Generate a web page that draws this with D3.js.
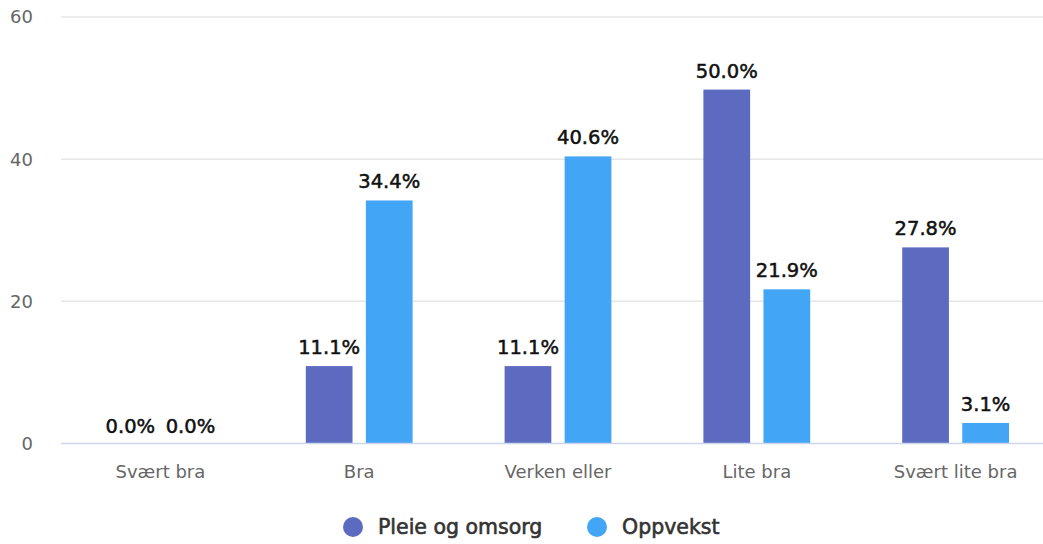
<!DOCTYPE html>
<html><head><meta charset="utf-8">
<script src="https://cdn.jsdelivr.net/npm/d3@7"></script>
<style>body{margin:0;background:#fff}svg{display:block}</style>
</head><body>
<svg id="c" width="1043" height="544"></svg>
<script>
const categories = ["Svært bra", "Bra", "Verken eller", "Lite bra", "Svært lite bra"];
const seriesNames = ["Pleie og omsorg", "Oppvekst"];
const pleie = [0.0, 11.1, 11.1, 50.0, 27.8];
const oppvekst = [0.0, 34.4, 40.6, 21.9, 3.1];
const colors = ["#5c6bc0", "#42a5f5"];
const yTicks = [0, 20, 40, 60];

(function () {
const svg = d3.select("#c");
const mLeft = 61, mRight = 1055, mTop = 17, mBottom = 443.5;
const x = d3.scaleBand().domain(categories).range([mLeft, mRight]).paddingInner(0).paddingOuter(0);
const y = d3.scaleLinear().domain([0, 60]).range([mBottom, mTop]);
const x1 = d3.scaleBand().domain(seriesNames).range([46, x.bandwidth() - 46]).paddingInner(0.222).paddingOuter(0);

svg.append("g").selectAll("line").data(yTicks.filter(d => d !== 0)).join("line")
  .attr("x1", mLeft).attr("x2", 1043).attr("y1", d => y(d)).attr("y2", d => y(d))
  .attr("stroke", "#e6e6e6").attr("stroke-width", 1.5);
svg.append("g").selectAll("text").data(yTicks).join("text")
  .attr("x", 33).attr("y", d => y(d)).attr("dy", "0.36em").attr("text-anchor", "end")
  .attr("font-family", "DejaVu Sans").attr("font-size", 18).attr("fill", "#666")
  .text(d => d);

const data = [pleie, oppvekst];
const g = svg.append("g");
categories.forEach((c, i) => {
  data.forEach((vals, s) => {
    const v = vals[i];
    const bx = x(c) + x1(seriesNames[s]);
    g.append("rect").attr("x", bx).attr("width", x1.bandwidth())
      .attr("y", y(v) + 1.5).attr("height", Math.max(0, mBottom - y(v) - 1.5))
      .attr("fill", colors[s]);
    g.append("text").attr("x", bx + x1.bandwidth() / 2).attr("y", y(v) - 10.5)
      .attr("text-anchor", "middle").attr("font-family", "DejaVu Sans").attr("font-size", 19.5)
      .attr("fill", "#111").attr("stroke", "#111").attr("stroke-width", 0.5)
      .text(v.toFixed(1) + "%");
  });
});

svg.append("line").attr("x1", mLeft).attr("x2", 1043).attr("y1", mBottom).attr("y2", mBottom)
  .attr("stroke", "#ccd6eb").attr("stroke-width", 1.5);

svg.append("g").selectAll("text").data(categories).join("text")
  .attr("x", d => x(d) + x.bandwidth() / 2).attr("y", 478).attr("text-anchor", "middle")
  .attr("font-family", "DejaVu Sans").attr("font-size", 18).attr("fill", "#666")
  .text(d => d);

const legendX = [353, 597];
seriesNames.forEach((n, s) => {
  svg.append("circle").attr("cx", legendX[s]).attr("cy", 527).attr("r", 10).attr("fill", colors[s]);
  svg.append("text").attr("x", legendX[s] + 25).attr("y", 527).attr("dy", "0.36em")
    .attr("font-family", "DejaVu Sans").attr("font-size", 20.5)
    .attr("fill", "#333").attr("stroke", "#333").attr("stroke-width", 0.6).text(n);
});
})();
</script>
</body></html>
